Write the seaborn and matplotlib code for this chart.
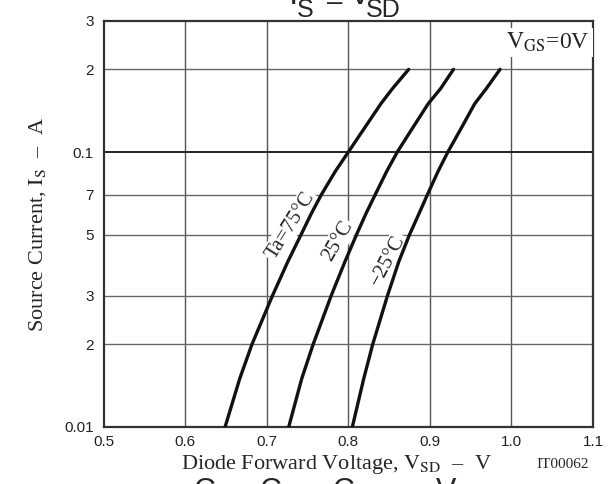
import numpy as np
import pandas as pd
import matplotlib
matplotlib.use("Agg")
import matplotlib.pyplot as plt
import seaborn as sns

# Source current (A) sampled along each curve
current = [0.01, 0.015, 0.02, 0.03, 0.04, 0.05, 0.06, 0.07, 0.085, 0.1,
           0.12, 0.15, 0.17, 0.2]
# Diode forward voltage (V) at each current, per ambient temperature
vsd_75 = [0.649, 0.667, 0.682, 0.707, 0.726, 0.742, 0.755, 0.767, 0.784,
          0.800, 0.818, 0.840, 0.854, 0.874]
vsd_25 = [0.727, 0.743, 0.757, 0.779, 0.796, 0.810, 0.822, 0.833, 0.847,
          0.860, 0.877, 0.898, 0.913, 0.929]
vsd_m25 = [0.805, 0.819, 0.830, 0.848, 0.862, 0.875, 0.887, 0.897, 0.910,
           0.922, 0.937, 0.955, 0.969, 0.986]
temps = ["75", "25", "-25"]

x_ticks = [0.5, 0.6, 0.7, 0.8, 0.9, 1.0, 1.1]
x_tick_labels = ["0.5", "0.6", "0.7", "0.8", "0.9", "1.0", "1.1"]
y_ticks = [0.01, 0.02, 0.03, 0.05, 0.07, 0.1, 0.2, 0.3]
y_tick_labels = ["0.01", "2", "3", "5", "7", "0.1", "2", "3"]

df = pd.concat([
    pd.DataFrame({"VSD": v, "IS": current, "Ta": t})
    for v, t in zip([vsd_75, vsd_25, vsd_m25], temps)
], ignore_index=True)

sns.set_style("white")
plt.rcParams["font.family"] = ["Liberation Sans", "DejaVu Sans"]
plt.rcParams["mathtext.fontset"] = "custom"
plt.rcParams["mathtext.rm"] = "Liberation Sans"
plt.rcParams["mathtext.it"] = "Liberation Sans:italic"

W, H = 612, 484
fig = plt.figure(figsize=(W / 100, H / 100), dpi=100)
ax = fig.add_axes([103.5 / W, 1 - 427 / H, 489.5 / W, 406 / H])

sns.lineplot(data=df, x="VSD", y="IS", hue="Ta", palette=["#111111"] * 3,
             estimator=None, sort=False, linewidth=2.4, legend=False, ax=ax,
             zorder=5)

ax.set_yscale("log")
ax.set_xlim(0.5, 1.1)
ax.set_ylim(0.01, 0.3)
ax.set_xticks(x_ticks)
ax.set_xticklabels(x_tick_labels, fontsize=11, color="#222222")
ax.set_yticks(y_ticks)
ax.set_yticklabels(y_tick_labels, fontsize=11, color="#222222")
ax.yaxis.set_minor_locator(matplotlib.ticker.NullLocator())
ax.tick_params(axis="y", length=0, pad=7)
ax.tick_params(axis="x", length=0, pad=6)

# grid
for xv in x_ticks[1:-1]:
    ax.axvline(xv, color="#555555", lw=1.0, zorder=1)
for yv in y_ticks[1:-1]:
    ax.axhline(yv, color="#222222" if yv == 0.1 else "#666666",
               lw=1.4 if yv == 0.1 else 1.0, zorder=1)
for sp in ax.spines.values():
    sp.set_color("#333333")
    sp.set_linewidth(1.6)

serif = ["Liberation Serif", "DejaVu Serif"]
ax.set_xlabel(r"Diode Forward Voltage, $\mathrm{V_{SD}}$  –  V", family=serif,
              fontsize=16, math_fontfamily="stix", va="center")
ax.xaxis.set_label_coords(0.475, -0.092)
ax.set_ylabel(r"Source Current, $\mathrm{I_S}$  –  A", family=serif,
              fontsize=16, math_fontfamily="stix", va="center")
ax.yaxis.set_label_coords(-0.134, 0.5)

box = dict(facecolor="white", edgecolor="none", pad=1.0)
ax.text(0.729, 0.054, "Ta=75°C", family=serif, fontsize=15, rotation=58,
        ha="center", va="center", bbox=box, zorder=4)
ax.text(0.787, 0.0475, "25°C", family=serif, fontsize=15, rotation=60,
        ha="center", va="center", bbox=box, zorder=4)
ax.text(0.849, 0.0404, "−25°C", family=serif, fontsize=15, rotation=62,
        ha="center", va="center", bbox=box, zorder=4)
ax.text(0.994, 0.975, r"$\mathrm{V_{GS}}$=0V", transform=ax.transAxes,
        family=serif, fontsize=17, math_fontfamily="stix", ha="right",
        va="top", bbox=dict(facecolor="white", edgecolor="none", pad=2.0),
        zorder=4)

fig.text(563 / W, 1 - 464 / H, "IT00062", family=serif, fontsize=11,
         ha="center", va="center")

# chart heading, partly above the top edge
def px_text(x, y, s, size):
    fig.text(x / W, 1 - y / H, s, fontsize=size, ha="left", va="baseline")

px_text(289, 4, "I", 24)
px_text(297, 17, "S", 18)
px_text(327, 10, "–", 20)
px_text(349, 4, "V", 24)
px_text(366, 17, "SD", 18)

# next heading, partly below the bottom edge
fig.text(340 / W, 1 - 477 / H,
         r"$\mathrm{C_{iss}}$, $\mathrm{C_{oss}}$, $\mathrm{C_{rss}}$  –  "
         r"$\mathrm{V_{DS}}$", fontsize=22, ha="center", va="top")

fig.savefig("out.png", dpi=100)
